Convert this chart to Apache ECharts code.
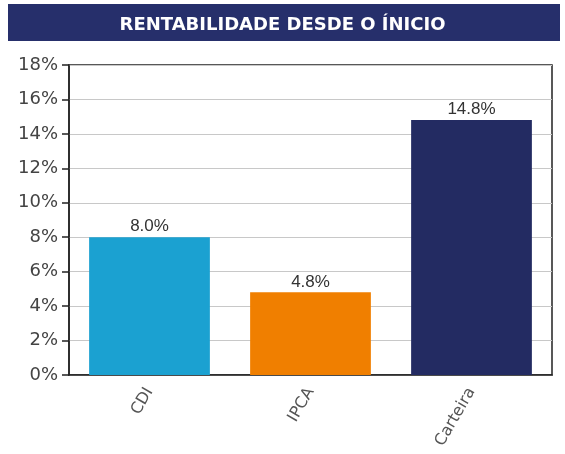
<!DOCTYPE html>
<html>
<head>
<meta charset="utf-8">
<script src="https://cdn.jsdelivr.net/npm/echarts@6/dist/echarts.min.js"></script>
<style>
  html, body { margin: 0; padding: 0; background: #fff; }
  #chart { width: 565px; height: 454px; }
</style>
</head>
<body>
<div id="chart"></div>
<script>
var categorias = ['CDI', 'IPCA', 'Carteira'];
var rentabilidade = [8.0, 4.8, 14.8];
var cores = ['#1ba1d1', '#f07f00', '#232b62'];
var tituloTexto = 'RENTABILIDADE DESDE O ÍNICIO';

var chart = echarts.init(document.getElementById('chart'));

var option = {
    backgroundColor: '#fff',
    animation: false,
    //faixa do titulo
    graphic: [{
        type: 'rect',
        left: 8,
        top: 4,
        shape: { width: 552, height: 37 },
        style: { fill: '#262f6b' },
        z: 0
    }],
    title: {
        text: tituloTexto,
        left: 'center',
        top: 11,
        textStyle: {
            color: '#fff',
            fontFamily: 'DejaVu Sans',
            fontWeight: 'bold',
            fontSize: 18
        },
        z: 5
    },
    grid: {
        left: 69,
        right: 13,
        top: 65,
        bottom: 79,
        show: true,
        borderColor: '#222',
        borderWidth: 1.5
    },
    xAxis: {
        type: 'category',
        data: categorias,
        axisLine: { lineStyle: { color: '#222', width: 1.5 } },
        axisTick: { alignWithLabel: true, length: 8, lineStyle: { color: '#222', width: 1.5 } },
        axisLabel: {
            rotate: 60,
            margin: 14,
            color: '#555',
            fontFamily: 'DejaVu Sans',
            fontSize: 16
        }
    },
    yAxis: {
        type: 'value',
        min: 0,
        max: 18,
        interval: 2,
        axisLine: { show: true, lineStyle: { color: '#222', width: 1.5 } },
        axisTick: { show: true, length: 7, lineStyle: { color: '#222', width: 1.5 } },
        splitLine: { lineStyle: { color: '#c8c8c8', width: 1 } },
        axisLabel: {
            formatter: '{value}%',
            margin: 11,
            color: '#444',
            fontFamily: 'DejaVu Sans',
            fontSize: 18
        }
    },
    series: [{
        type: 'bar',
        barCategoryGap: '25%',
        data: rentabilidade.map(function (v, i) {
            return { value: v, itemStyle: { color: cores[i] } };
        }),
        label: {
            show: true,
            position: 'top',
            distance: 2,
            color: '#333',
            fontFamily: 'Liberation Sans',
            fontSize: 17,
            formatter: function (p) { return p.value.toFixed(1) + '%'; }
        }
    }]
};
chart.setOption(option);

window.onresize = function () {
    chart.resize();
};
</script>
</body>
</html>
